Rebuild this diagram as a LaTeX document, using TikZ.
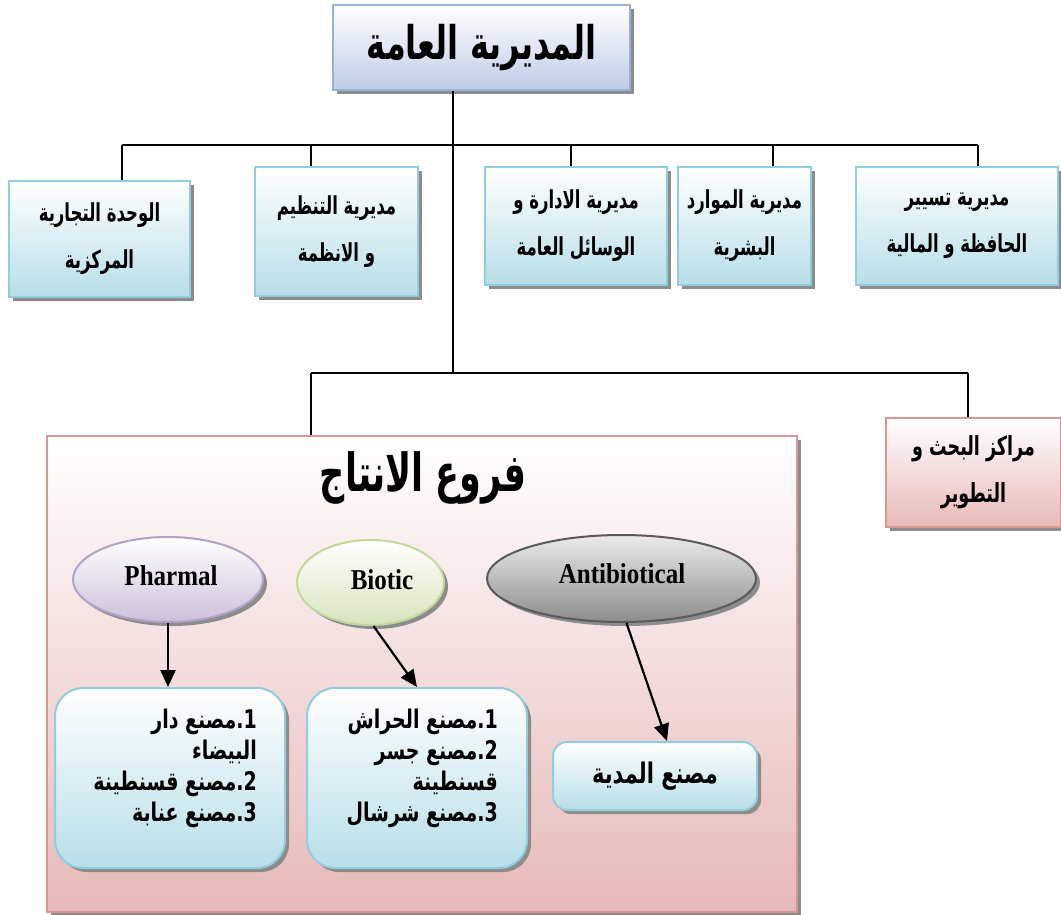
\documentclass[tikz,border=0pt]{standalone}
\usepackage{fontspec}
\usepackage{graphicx}
\setmainfont{Liberation Serif}
\newfontfamily\ar[Script=Arabic]{DejaVu Sans}
\TeXXeTstate=1
\newcommand\rtl[2][1.5]{\scalebox{1}[#1]{\beginR #2\endR}}
\usetikzlibrary{shadows,arrows.meta,shapes.geometric}
\definecolor{bluebd}{HTML}{93CDDD}
\definecolor{bluefill}{HTML}{B7DEE8}
\definecolor{topbd}{HTML}{95B3D7}
\definecolor{topfill}{HTML}{BFCCE6}
\definecolor{pinkbd}{HTML}{D99694}
\definecolor{pinkfill}{HTML}{E6B9B8}
\definecolor{purpbd}{HTML}{B3A2C7}
\definecolor{purpfill}{HTML}{CCC0DA}
\definecolor{greenbd}{HTML}{C3D69B}
\definecolor{greenfill}{HTML}{D7E4BD}
\definecolor{graybd}{HTML}{5A5A5A}
\definecolor{grayfill}{HTML}{8C8C8C}
\tikzset{
  shad/.style={general shadow={fill=black!45, shadow xshift=4pt, shadow yshift=-4pt}},
  dept/.style={draw=bluebd, line width=2pt, top color=white, bottom color=bluefill, shad,
     align=center, inner sep=0pt, font=\ar\bfseries\fontsize{16.5}{47}\selectfont},
  pinkbox/.style={draw=pinkbd, line width=2.5pt, top color=white, bottom color=pinkfill, shad, inner sep=0pt},
  oval/.style={ellipse, line width=2pt, shad, inner sep=0pt},
  lbl/.style={font=\bfseries\fontsize{25}{30}\selectfont, inner sep=0pt},
  plant/.style={draw=bluebd, line width=2pt, top color=white, bottom color=bluefill, shad,
     rounded corners=28pt, inner sep=0pt, font=\ar\bfseries\fontsize{21}{31}\selectfont},
  plist/.style={font=\ar\bfseries\fontsize{19}{31}\selectfont, align=right, anchor=east, inner sep=0pt},
  conn/.style={line width=2pt, black},
  arr/.style={line width=2.2pt, black, -{Triangle[length=17pt,width=15pt]}}
}
\begin{document}
\begin{tikzpicture}[x=1pt,y=-1pt]
\useasboundingbox (0,0) rectangle (1061,914);
\coordinate (j1) at (453,145);
\coordinate (j2) at (453,373);
\coordinate (d1) at (122,145);
\coordinate (d2) at (311,145);
\coordinate (d3) at (571,145);
\coordinate (d4) at (773,145);
\coordinate (d5) at (978,145);
\coordinate (e1) at (311,373);
\coordinate (e2) at (968,373);

\node[draw=topbd, line width=2pt, top color=white, bottom color=topfill, shad,
      minimum width=297pt, minimum height=85pt, inner sep=0pt,
      font=\ar\bfseries\fontsize{32}{40}\selectfont] (top) at (481.5,47.5) {\rtl[1.45]{المديرية العامة}};

\node[dept, minimum width=181pt, minimum height=116pt] (wahda) at (99.5,239)
  {\rtl{الوحدة التجارية}\\\rtl{المركزية}};
\node[dept, minimum width=163pt, minimum height=129pt] (tanzim) at (336.5,231.5)
  {\rtl{مديرية التنظيم}\\\rtl{و الانظمة}};
\node[dept, minimum width=182pt, minimum height=118pt] (idara) at (576,226)
  {\rtl{مديرية الادارة و}\\\rtl{الوسائل العامة}};
\node[dept, minimum width=133pt, minimum height=118pt] (mawarid) at (744.5,226)
  {\rtl{مديرية الموارد}\\\rtl{البشرية}};
\node[dept, minimum width=202pt, minimum height=118pt] (tasyir) at (957,226)
  {\rtl{مديرية تسيير}\\\rtl{الحافظة و المالية}};

\node[pinkbox, minimum width=750pt, minimum height=476pt] (prod) at (422,674) {};
\node[font=\ar\bfseries\fontsize{35}{44}\selectfont, inner sep=0pt] (prodt) at (423,478) {\rtl[1.5]{فروع الانتاج}};

\node[pinkbox, minimum width=175pt, minimum height=109pt, align=center,
      font=\ar\bfseries\fontsize{17.5}{47}\selectfont] (rd) at (973.5,472.5)
  {\rtl{مراكز البحث و}\\\rtl{التطوير}};

\node[oval, draw=purpbd, top color=white, bottom color=purpfill, minimum width=190pt, minimum height=85pt] (pharmal) at (168,579.5) {};
\node[lbl] (pharmalt) at (171,576) {\scalebox{1}[1.15]{Pharmal}};
\node[oval, draw=greenbd, top color=white, bottom color=greenfill, minimum width=147pt, minimum height=85pt] (biotic) at (370.5,582.5) {};
\node[lbl] (biotict) at (382,580) {\scalebox{1}[1.15]{Biotic}};
\node[oval, draw=graybd, top color=white!92!black, bottom color=grayfill, minimum width=269pt, minimum height=87pt] (anti) at (621.5,578.5) {};
\node[lbl] (antit) at (622,574) {\scalebox{1}[1.15]{Antibiotical}};

\node[plant, minimum width=230pt, minimum height=180pt] (pl1) at (170,778) {};
\node[plist] (pl1t) at (257,768)
  {\rtl[1.35]{1\kern0pt.\kern0pt مصنع دار}\\
   \rtl[1.35]{البيضاء}\\
   \rtl[1.35]{2\kern0pt.\kern0pt مصنع قسنطينة}\\
   \rtl[1.35]{3\kern0pt.\kern0pt مصنع عنابة}};
\node[plant, minimum width=220pt, minimum height=180pt] (pl2) at (417,778) {};
\node[plist] (pl2t) at (498,768)
  {\rtl[1.35]{1\kern0pt.\kern0pt مصنع الحراش}\\
   \rtl[1.35]{2\kern0pt.\kern0pt مصنع جسر}\\
   \rtl[1.35]{قسنطينة}\\
   \rtl[1.35]{3\kern0pt.\kern0pt مصنع شرشال}};
\node[plant, rounded corners=14pt, minimum width=204pt, minimum height=68pt] (pl3) at (655,776) {\rtl[1.35]{مصنع المدية}};

\draw[conn] (j1 |- top.south) -- (j2);
\draw[conn] (d1) -- (d5);
\draw[conn] (d1) -- (d1 |- wahda.north);
\draw[conn] (d2) -- (d2 |- tanzim.north);
\draw[conn] (d3) -- (d3 |- idara.north);
\draw[conn] (d4) -- (d4 |- mawarid.north);
\draw[conn] (d5) -- (d5 |- tasyir.north);
\draw[conn] (e1) -- (e2);
\draw[conn] (e1) -- (e1 |- prod.north);
\draw[conn] (e2) -- (e2 |- rd.north);

\draw[arr] (pharmal.south) -- (pl1.north -| pharmal.south);
\draw[arr] ([xshift=3pt]biotic.south) -- (pl2.north);
\draw[arr] ([xshift=5pt]anti.south) -- ([xshift=12pt]pl3.north);
\end{tikzpicture}
\end{document}
